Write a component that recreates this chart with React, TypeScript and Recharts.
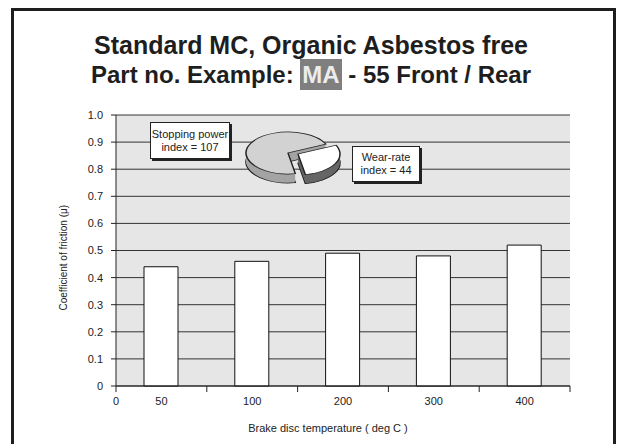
import React from 'react'
import { BarChart, Bar, XAxis, YAxis, CartesianGrid, PieChart, Pie, Cell } from 'recharts'

// bar chart data
const temperatures = ['50', '100', '200', '300', '400']
const friction = [0.44, 0.46, 0.49, 0.48, 0.52]
const yTicks = [0, 0.1, 0.2, 0.3, 0.4, 0.5, 0.6, 0.7, 0.8, 0.9, 1.0]

// decorative pie
const indexNames = ['Wear-rate', 'Stopping power']
const indexValues = [44, 107]

const data = temperatures.map((t, i) => ({ temp: t, mu: friction[i] }))
const pieData = indexNames.map((n, i) => ({ name: n, value: indexValues[i] }))

const FONT = '"Liberation Sans", Arial, sans-serif'
const PLOT_LEFT = 116
const PLOT_RIGHT = 570
const STEP = (PLOT_RIGHT - PLOT_LEFT) / temperatures.length

function TempTick(props: any) {
  const { x, y, payload, index } = props
  const axisY = y - 6
  return (
    <g>
      <text x={x} y={axisY + 19} textAnchor="middle" fontSize={11} fontFamily={FONT} fill="#222">
        {payload.value}
      </text>
      <line x1={x + STEP / 2} x2={x + STEP / 2} y1={axisY} y2={axisY + 6} stroke="#222" />
      {index === 0 && (
        <g>
          <line x1={x - STEP / 2} x2={x - STEP / 2} y1={axisY} y2={axisY + 6} stroke="#222" />
          <text x={x - STEP / 2} y={axisY + 19} textAnchor="middle" fontSize={11} fontFamily={FONT} fill="#222">
            0
          </text>
        </g>
      )}
    </g>
  )
}

const DEPTH = 9
const layers = Array.from({ length: DEPTH }, (_, k) => DEPTH - k)

function Pie3D() {
  const cx = 50
  const cy = 45
  const r = 42
  const ex = 10
  const ey = 2
  const common = {
    dataKey: 'value',
    startAngle: 25,
    endAngle: -335,
    outerRadius: r,
    isAnimationActive: false,
  }
  return (
    <div
      style={{
        position: 'absolute',
        left: 233,
        top: 128,
        width: 120,
        height: 120,
        transform: 'scaleY(0.5)',
        transformOrigin: 'top left',
      }}
    >
      <PieChart width={120} height={120}>
        {layers.map((k) => (
          <Pie key={'m' + k} data={pieData} {...common} cx={cx} cy={cy + k * 2} stroke="none">
            <Cell fill="transparent" />
            <Cell fill="#a4a4a4" stroke={k === DEPTH ? '#222' : 'none'} strokeWidth={1.5} />
          </Pie>
        ))}
        <Pie data={pieData} {...common} cx={cx} cy={cy} stroke="none">
          <Cell fill="transparent" />
          <Cell fill="#d2d2d2" stroke="#222" strokeWidth={1.5} />
        </Pie>
        {layers.map((k) => (
          <Pie key={'e' + k} data={pieData} {...common} cx={cx + ex} cy={cy + ey + k * 2} stroke="none">
            <Cell fill="#666" stroke={k === DEPTH ? '#222' : 'none'} strokeWidth={1.5} />
            <Cell fill="transparent" />
          </Pie>
        ))}
        <Pie data={pieData} {...common} cx={cx + ex} cy={cy + ey} stroke="none">
          <Cell fill="#fff" stroke="#222" strokeWidth={1.5} />
          <Cell fill="transparent" />
        </Pie>
      </PieChart>
    </div>
  )
}

const boxStyle: React.CSSProperties = {
  position: 'absolute',
  background: '#fff',
  border: '1px solid #222',
  boxShadow: '2px 2px 0 #222',
  fontFamily: FONT,
  fontSize: 11,
  lineHeight: '13px',
  color: '#222',
  textAlign: 'center',
  display: 'flex',
  alignItems: 'center',
  justifyContent: 'center',
  boxSizing: 'border-box',
}

export default function App() {
  return (
    <div style={{ position: 'absolute', left: 0, top: 0, width: 623, height: 444, background: '#fff', overflow: 'hidden' }}>
      <div
        style={{
          position: 'absolute',
          left: 11,
          top: 8,
          width: 605,
          height: 460,
          border: '3px solid #1e1e1e',
          boxSizing: 'border-box',
        }}
      />
      <div
        style={{
          position: 'absolute',
          left: 12,
          top: 30,
          width: 598,
          textAlign: 'center',
          fontFamily: FONT,
          fontWeight: 'bold',
          fontSize: 25,
          lineHeight: '30px',
          color: '#1e1e1e',
          whiteSpace: 'pre',
        }}
      >
        <div>Standard MC, Organic Asbestos free</div>
        <div style={{ fontSize: 24 }}>
          {'Part no. Example: '}
          <span style={{ background: '#7f7f7f', color: '#ececec', padding: '2px 2px' }}>MA</span>
          {' - 55 Front / Rear'}
        </div>
      </div>

      <div style={{ position: 'absolute', left: 0, top: 0 }}>
        <BarChart
          width={623}
          height={444}
          data={data}
          margin={{ top: 115, right: 53, left: 56, bottom: 0 }}
        >
          <CartesianGrid vertical={false} stroke="#333" fill="#e6e6e6" horizontalValues={yTicks} />
          <XAxis
            dataKey="temp"
            height={58}
            axisLine={{ stroke: '#222' }}
            tickLine={false}
            tickSize={6}
            tickMargin={0}
            tick={<TempTick />}
            interval={0}
            label={{
              value: 'Brake disc temperature ( deg C )',
              position: 'insideBottom',
              offset: 12,
              dx: -15,
              fontSize: 11,
              fontFamily: FONT,
              fill: '#222',
            }}
          />
          <YAxis
            width={60}
            domain={[0, 1]}
            ticks={yTicks}
            interval={0}
            tickSize={5}
            tickMargin={8}
            axisLine={{ stroke: '#222' }}
            tickLine={{ stroke: '#222' }}
            tick={{ fontSize: 11, fontFamily: FONT, fill: '#222' }}
            tickFormatter={(v) => (v === 0 ? '0' : Number(v).toFixed(1))}
            label={{
              value: 'Coefficient of friction (μ)',
              angle: -90,
              position: 'insideLeft',
              offset: 7,
              dy: 60,
              fontSize: 10,
              fontFamily: FONT,
              fill: '#222',
            }}
          />
          <YAxis
            yAxisId="right"
            orientation="right"
            width={0}
            domain={[0, 1]}
            tick={false}
            tickLine={false}
            axisLine={{ stroke: '#666' }}
          />
          <Bar dataKey="mu" barSize={34} fill="#fff" stroke="#111" strokeWidth={1} isAnimationActive={false} />
        </BarChart>
      </div>

      <Pie3D />

      <div style={{ ...boxStyle, left: 150, top: 122, width: 80, height: 37 }}>
        Stopping power
        <br />
        index = 107
      </div>
      <div style={{ ...boxStyle, left: 352, top: 146, width: 68, height: 36 }}>
        Wear-rate
        <br />
        index = 44
      </div>
    </div>
  )
}
